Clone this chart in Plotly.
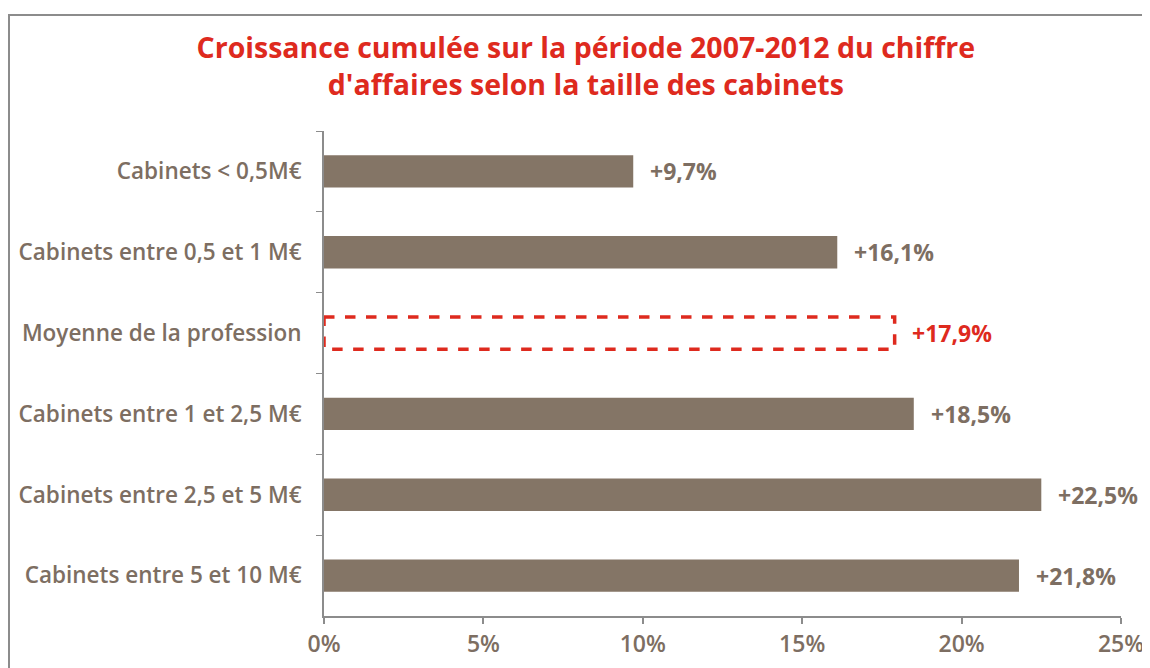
import plotly.graph_objects as go

categories = [
    "Cabinets < 0,5M€",
    "Cabinets entre 0,5 et 1 M€",
    "Moyenne de la profession",
    "Cabinets entre 1 et 2,5 M€",
    "Cabinets entre 2,5 et 5 M€",
    "Cabinets entre 5 et 10 M€",
]
growth = [9.7, 16.1, 17.9, 18.5, 22.5, 21.8]
labels = ["+9,7%", "+16,1%", "+17,9%", "+18,5%", "+22,5%", "+21,8%"]
avg_index = 2

BROWN = "#847566"
TEXT = "#7d6e62"
RED = "#de2a1e"
AXIS = "#8c8c8c"
FONT = "Open Sans"
BAR_W = 0.4

bar_colors = [BROWN] * len(categories)
bar_colors[avg_index] = "rgba(0,0,0,0)"

fig = go.Figure(go.Bar(
    x=growth, y=categories, orientation="h", width=BAR_W,
    marker=dict(color=bar_colors, line=dict(width=0)),
    hoverinfo="x+y",
))

# value labels beside the bars
for i, (cat, val, lab) in enumerate(zip(categories, growth, labels)):
    fig.add_annotation(
        x=val, y=cat, text=lab, showarrow=False,
        xanchor="left", xshift=15,
        font=dict(family=FONT, size=23, weight="bold",
                  color=RED if i == avg_index else TEXT),
    )

# dashed outline for the profession average
fig.add_shape(
    type="rect", xref="x", yref="y",
    x0=0, x1=growth[avg_index],
    y0=avg_index - BAR_W / 2, y1=avg_index + BAR_W / 2,
    line=dict(color=RED, width=3.5, dash="dash"),
)

# outer frame (runs off the right and bottom edges)
fig.add_shape(
    type="rect", xref="paper", yref="paper",
    x0=(8 - 323) / 797, x1=1.2,
    y0=-0.3, y1=(615 - 14) / 485,
    line=dict(color=AXIS, width=2),
)

fig.update_layout(
    width=1142, height=660,
    margin=dict(l=316, r=29, t=123, b=52, autoexpand=False),
    plot_bgcolor="white", paper_bgcolor="white",
    showlegend=False,
    title=dict(
        text="Croissance cumulée sur la période 2007-2012 du chiffre<br>d'affaires selon la taille des cabinets",
        x=0.506, xanchor="center", y=0.924, yanchor="top",
        font=dict(family=FONT, size=28.5, color=RED, weight="bold"),
    ),
    xaxis=dict(
        range=[0, 25], dtick=5, ticksuffix="%",
        showgrid=False, zeroline=False,
        showline=True, linecolor=AXIS, linewidth=2,
        ticks="outside", ticklen=6, tickcolor=AXIS, tickwidth=2,
        tickfont=dict(family=FONT, size=23, color=TEXT, weight=600),
    ),
    yaxis=dict(
        autorange="reversed", tickson="boundaries",
        showgrid=False, zeroline=False,
        showline=True, linecolor=AXIS, linewidth=2,
        ticks="outside", ticklen=6, tickcolor=AXIS, tickwidth=1,
        ticklabelstandoff=16,
        tickfont=dict(family=FONT, size=22.5, color=TEXT, weight=600),
    ),
)

fig.write_html("out.html")
